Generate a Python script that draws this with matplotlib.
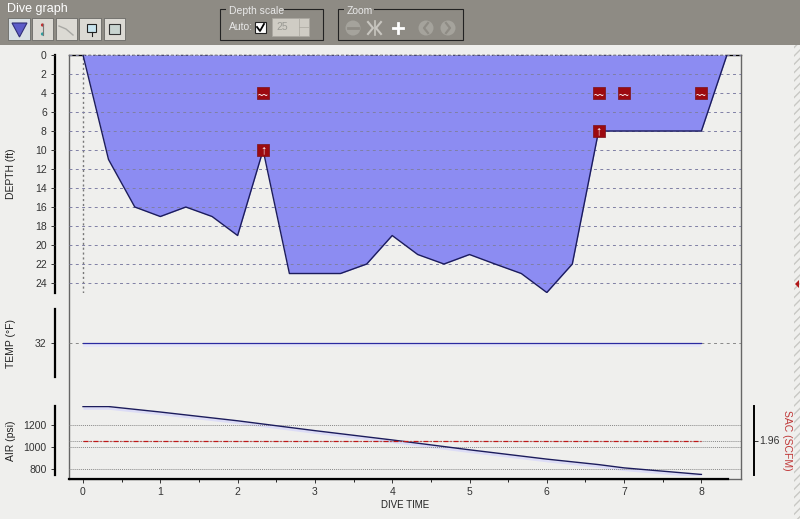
import matplotlib
matplotlib.use("Agg")
import matplotlib.pyplot as plt
from matplotlib.patches import Rectangle, Polygon, Circle
from matplotlib.transforms import blended_transform_factory
import numpy as np

plt.rcParams['font.family'] = ['Liberation Sans', 'DejaVu Sans']

W, H = 800, 519
BG = '#efefed'
BAR = '#8e8b84'
FILL = '#8c8cf2'
NAVY = '#1c1c5c'

# data
dive_time = [0, 0.33, 0.67, 1, 1.33, 1.67, 2, 2.33, 2.67, 3, 3.33, 3.67, 4,
             4.33, 4.67, 5, 5.33, 5.67, 6, 6.33, 6.67, 7, 7.33, 7.67, 8, 8.33]
depth = [0, 11, 16, 17, 16, 17, 19, 10, 23, 23, 23, 22, 19,
         21, 22, 21, 22, 23, 25, 22, 8, 8, 8, 8, 8, 0]
depth_ticks = list(range(0, 25, 2))

wave_times = [2.33, 6.67, 7.0, 8.0]
wave_depths = [4, 4, 4, 4]
ascent_times = [2.33, 6.67]
ascent_depths = [10, 8]

temp_times = [0, 8]
temp_values = [32, 32]

air_times = [0, 0.33, 1, 2, 3, 4, 5, 6, 6.67, 7, 8]
air_values = [1370, 1370, 1320, 1240, 1150, 1065, 975, 890, 840, 810, 750]
air_ticks = [800, 1000, 1200]

sac_times = [0, 8]
sac_values = [1.96, 1.96]

time_ticks = list(range(0, 9))
time_minor = [0.5, 1.5, 2.5, 3.5, 4.5, 5.5, 6.5, 7.5]


def px_axes(x0, y0, x1, y1, **kw):
    # axes from pixel box, y measured from the top
    return fig.add_axes([x0 / W, 1 - y1 / H, (x1 - x0) / W, (y1 - y0) / H], **kw)


def place_label(a, x_px, y_center_px):
    # y label at a pixel position, independent of tick label width
    a.yaxis.set_label_coords(x_px / W, 1 - y_center_px / H, transform=fig.transFigure)


fig = plt.figure(figsize=(W / 100, H / 100), dpi=100, facecolor=BG)
xlim = (-14 / 77.3, 658 / 77.3)

# outer panel, carries the time axis
panel = px_axes(69, 55, 741, 479)
panel.set_facecolor('none')
panel.set_xlim(xlim)
panel.set_yticks([])
panel.set_ylim(0, 1)
panel.set_xticks(time_ticks)
panel.set_xticks(time_minor, minor=True)
panel.tick_params(axis='x', length=3, width=0.7, labelsize=7.5, colors='#333333', pad=3)
panel.tick_params(axis='x', which='minor', length=2, width=0.6)
for s in panel.spines.values():
    s.set_color('#666666')
    s.set_linewidth(1)
panel.spines['top'].set_visible(False)
panel.plot([xlim[0], 8.35], [0, 0], color='black', lw=1.6, clip_on=False, zorder=5)
panel.plot([xlim[0], 0], [1, 1], color='black', lw=1, clip_on=False)
panel.plot([8.35, xlim[1]], [1, 1], color='black', lw=1, clip_on=False)
panel.plot([0, 8.35], [1, 1], color='black', lw=1, ls=(0, (2, 1.5)), clip_on=False)
panel.set_xlabel('DIVE TIME', fontsize=7, color='#222222', labelpad=2)

# depth
ax = px_axes(69, 55, 741, 293)
ax.patch.set_alpha(0)
ax.set_xlim(xlim)
ax.set_ylim(25.05, 0)
ax.fill_between(dive_time, depth, 0, color=FILL, lw=0, zorder=1)
ax.plot(dive_time, depth, color=NAVY, lw=1, zorder=3)
ax.set_yticks(depth_ticks)
ax.yaxis.grid(True, color='#7f7fa4', ls=(0, (3, 3.5)), lw=0.7, zorder=2)
ax.set_axisbelow(False)
ax.axvline(0, color='#777777', ls=(0, (1.5, 2)), lw=1, zorder=2)
ax.set_xticks([])
ax.set_ylabel('DEPTH (ft)', fontsize=7.5, color='#222222')
place_label(ax, 16, 174)
ax.scatter(wave_times, wave_depths, marker='s', s=82, color='#9c0a10', edgecolor='#7a1218', lw=0.5, zorder=6)
ax.scatter(ascent_times, ascent_depths, marker='s', s=82, color='#9c0a10', edgecolor='#7a1218', lw=0.5, zorder=6)
for t, d in zip(wave_times, wave_depths):
    ax.text(t, d + 0.25, '~~', color='white', fontsize=6.5, fontweight='bold', ha='center', va='center', zorder=7)
for t, d in zip(ascent_times, ascent_depths):
    ax.text(t, d, '\u2191', color='white', fontsize=9, fontweight='bold', ha='center', va='center', zorder=7)

# temperature
ax_t = px_axes(69, 309, 741, 377)
ax_t.patch.set_alpha(0)
ax_t.set_xlim(xlim)
ax_t.set_ylim(31, 33)
ax_t.plot(temp_times, temp_values, color='#2a2aa0', lw=0.9, zorder=3)
ax_t.fill_between(temp_times, temp_values, [v - 0.12 for v in temp_values], color='#e6e6f8', lw=0)
ax_t.set_yticks([32])
ax_t.yaxis.grid(True, color='#888888', ls=(0, (3, 3.5)), lw=0.7)
ax_t.set_xticks([])
ax_t.set_ylabel('TEMP (°F)', fontsize=7.5, color='#222222')
place_label(ax_t, 16, 343)

# air
ax_a = px_axes(69, 406, 741, 475)
ax_a.patch.set_alpha(0)
ax_a.set_xlim(xlim)
ax_a.set_ylim(745, 1375)
ax_a.plot(air_times, air_values, color=NAVY, lw=1, zorder=3)
ax_a.fill_between(air_times, air_values, [v - 25 for v in air_values], color='#dcdcf6', lw=0)
ax_a.set_yticks(air_ticks)
ax_a.yaxis.grid(True, color='#888888', ls=(0, (1, 1)), lw=0.7)
ax_a.set_xticks([])
ax_a.set_ylabel('AIR (psi)', fontsize=7.5, color='#222222')
place_label(ax_a, 16, 441)

for a in (ax, ax_t, ax_a):
    for name in ('top', 'right', 'bottom'):
        a.spines[name].set_visible(False)
    a.spines['left'].set_position(('outward', 10))
    a.spines['left'].set_linewidth(1.6)
    a.spines['left'].set_color('black')
    a.tick_params(axis='y', length=3, width=0.7, labelsize=7.5, colors='#333333', pad=3)

# SAC on the right hand scale, same height as air
ax_s = ax_a.twinx()
ax_s.patch.set_alpha(0)
ax_s.set_xlim(xlim)
ax_s.set_ylim(0.96, 2.96)
ax_s.plot(sac_times, sac_values, color='#c01818', lw=0.9, ls=(0, (4, 1.5, 1, 1.5)), zorder=3)
ax_s.axhline(1.96, color='#888888', ls=(0, (1, 1)), lw=0.7, zorder=1)
ax_s.set_yticks([1.96])
ax_s.set_yticklabels(['1.96'])
ax_s.set_xticks([])
for name in ('top', 'left', 'bottom'):
    ax_s.spines[name].set_visible(False)
ax_s.spines['right'].set_position(('outward', 9.4))
ax_s.spines['right'].set_linewidth(1.4)
ax_s.tick_params(axis='y', length=3, width=0.7, labelsize=7.5, colors='#333333', pad=1)
ax_s.set_ylabel('SAC (SCFM)', fontsize=7.5, color='#c03838', rotation=270, va='center')
ax_s.yaxis.set_label_coords(787 / W, 1 - 440 / H, transform=fig.transFigure)

# window chrome in pixel coordinates
ui = fig.add_axes([0, 0, 1, 1], zorder=20)
ui.set_xlim(0, W)
ui.set_ylim(H, 0)
ui.axis('off')
ui.patch.set_alpha(0)
ui.add_patch(Rectangle((0, 0), W, 45, color=BAR, lw=0))
ui.text(7, 9, 'Dive graph', color='white', fontsize=9, va='center', ha='left')

for i, (x0, x1) in enumerate([(8, 30), (32, 53), (56, 77), (79, 101), (104, 125)]):
    ui.add_patch(Rectangle((x0, 18), x1 - x0, 22, fc='#d8e0e4' if i == 0 else '#dcdad4', ec='#6a6a66', lw=0.6))
ui.add_patch(Polygon([(12, 23), (27, 23), (19.5, 37)], fc='#5c5cc8', ec='#303078', lw=0.8))
ui.plot([42.5, 42.5], [24, 35], color='#777777', lw=0.8)
ui.add_patch(Circle((42.5, 25), 1.6, fc='#c03030', lw=0))
ui.add_patch(Circle((42.5, 34), 1.6, fc='#30a0a0', lw=0))
ui.plot([59, 66, 73], [26, 29, 35], color='#a8a8a4', lw=1)
ui.add_patch(Rectangle((87, 24), 9, 8, fc='#c8e4ee', ec='#222222', lw=0.8))
ui.plot([91.5, 91.5], [32, 36], color='#222222', lw=0.8)
ui.add_patch(Rectangle((109, 24), 11, 10, fc='#c8d4d0', ec='#333333', lw=0.8))

# group boxes
ui.add_patch(Rectangle((220, 9), 103, 31, fc='none', ec='#222222', lw=0.8))
ui.add_patch(Rectangle((226, 5), 58, 8, fc=BAR, lw=0))
ui.text(229, 11, 'Depth scale', color='#e8e8e8', fontsize=7.5, va='center')
ui.text(229, 27, 'Auto:', color='#e8e8e8', fontsize=7.5, va='center')
ui.add_patch(Rectangle((255, 22), 11, 11, fc='white', ec='#222222', lw=0.8))
ui.plot([257, 260, 264], [27, 31, 24], color='black', lw=1.3)
ui.add_patch(Rectangle((272, 18), 37, 18, fc='#cfccc4', ec='#aaa8a0', lw=0.5))
ui.text(276, 27, '25', color='#9a9a94', fontsize=7.5, va='center')
ui.plot([299, 299], [18, 36], color='#aaa8a0', lw=0.5)
ui.plot([299, 309], [27, 27], color='#aaa8a0', lw=0.5)
ui.add_patch(Rectangle((338, 9), 125, 31, fc='none', ec='#222222', lw=0.8))
ui.add_patch(Rectangle((344, 5), 30, 8, fc=BAR, lw=0))
ui.text(347, 11, 'Zoom', color='#e8e8e8', fontsize=7.5, va='center')
for cx in (353, 426, 448):
    ui.add_patch(Circle((cx, 28), 7.5, fc='#a5a39c', lw=0))
ui.plot([348, 358], [28, 28], color='#8e8b84', lw=2)
ui.plot([393, 403], [28, 28], color='white', lw=2)
ui.plot([398, 398], [23, 33], color='white', lw=2)
ui.plot([428, 424, 428], [23, 28, 33], color=BAR, lw=1.6)
ui.plot([446, 450, 446], [23, 28, 33], color=BAR, lw=1.6)
ui.plot([368, 373, 368], [22, 28, 34], color='#c8c6c0', lw=1.5)
ui.plot([381, 376, 381], [22, 28, 34], color='#c8c6c0', lw=1.5)
ui.plot([374.5, 374.5], [21, 35], color='#c8c6c0', lw=1.2)

# resize strip on the right
ui.add_patch(Rectangle((794, 45), 6, H - 45, fc='none', ec='#c8c8c4', hatch='////', lw=0))
ui.add_patch(Polygon([(799, 280), (799, 288), (795, 284)], fc='#b01818', lw=0))

fig.savefig('out.png', dpi=100, facecolor=BG)
